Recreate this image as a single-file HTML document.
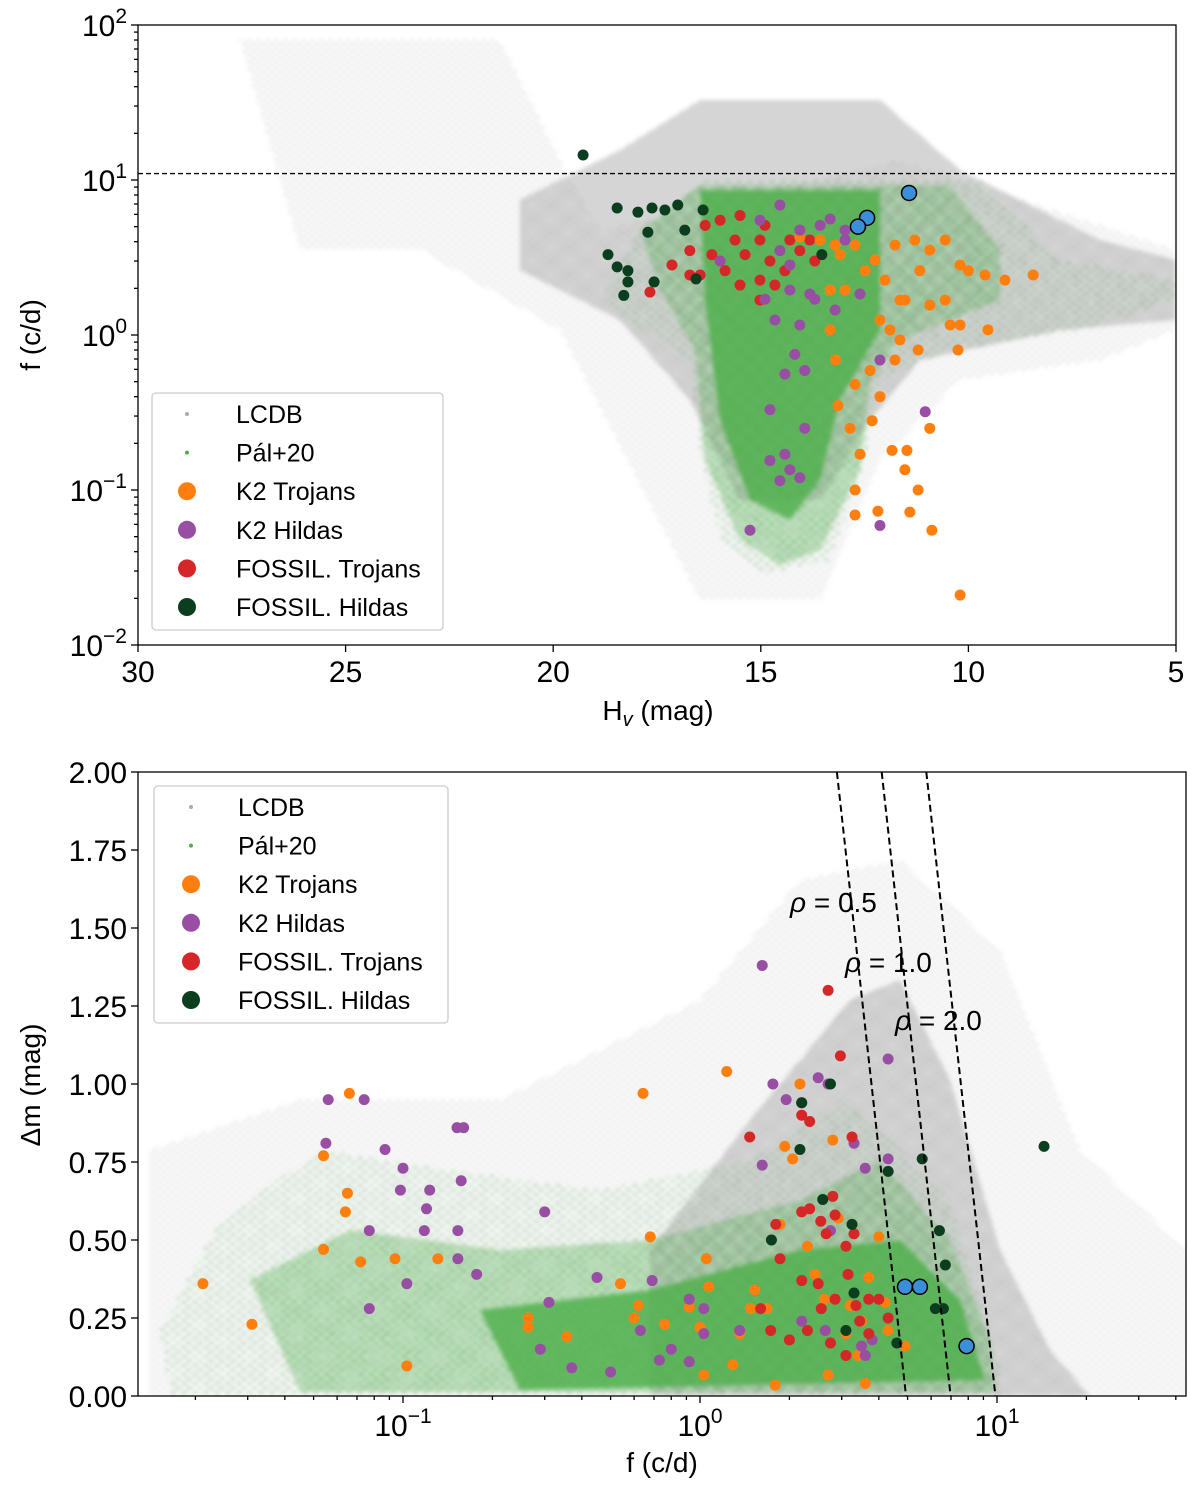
<!DOCTYPE html>
<html><head><meta charset="utf-8"><style>
html,body{margin:0;padding:0;background:#fff}
svg{display:block;font-family:"Liberation Sans","DejaVu Sans",sans-serif}
</style></head><body>
<svg id="fig" width="1200" height="1493" viewBox="0 0 1200 1493" xmlns="http://www.w3.org/2000/svg">
<defs>
<pattern id="gs" patternUnits="userSpaceOnUse" width="9" height="7"><circle cx="2" cy="2" r="1.1" fill="#aaa"/><circle cx="6.5" cy="5.5" r="1.1" fill="#aaa"/></pattern>
<pattern id="gm" patternUnits="userSpaceOnUse" width="4" height="4"><circle cx="1" cy="1" r="1.1" fill="#a6a6a6"/><circle cx="3" cy="3" r="1.1" fill="#a6a6a6"/></pattern>
<pattern id="gr" patternUnits="userSpaceOnUse" width="5" height="5"><circle cx="1.5" cy="1.5" r="1.2" fill="#4daf4a"/><circle cx="4" cy="4" r="1.2" fill="#4daf4a"/></pattern>
<pattern id="grs" patternUnits="userSpaceOnUse" width="11" height="9"><circle cx="2" cy="2" r="1.2" fill="#4daf4a"/><circle cx="8" cy="6.5" r="1.2" fill="#4daf4a"/></pattern>
<filter id="soft" x="-5%" y="-5%" width="110%" height="110%"><feGaussianBlur stdDeviation="2"/></filter>
<clipPath id="clipT"><rect x="138" y="25" width="1038" height="620"/></clipPath>
<clipPath id="clipB"><rect x="138" y="772" width="1048" height="624"/></clipPath>
</defs>

<g clip-path="url(#clipT)">
<g filter="url(#soft)">
<polygon points="240,40 500,40 560,160 600,230 900,160 1176,250 1176,330 1100,360 960,380 880,460 820,600 700,600 560,330 420,250 300,250" fill="url(#gs)"/>
<polygon points="520,200 620,150 700,100 880,100 960,170 1100,240 1176,260 1176,320 1060,330 920,360 870,420 820,500 740,500 690,400 620,320 520,270" fill="url(#gm)"/>
<polygon points="600,300 640,230 700,180 980,180 1060,260 1176,280 1176,300 1080,330 950,350 880,380 865,460 830,560 760,575 720,540 700,450 690,360" fill="url(#grs)"/>
<polygon points="640,230 700,185 950,185 1000,250 1000,300 900,340 870,380 860,470 820,550 780,565 740,540 705,460 695,350 660,290" fill="url(#gr)"/>
<polygon points="700,190 880,190 880,330 840,400 820,480 790,520 750,500 720,420 705,300" fill="#4daf4a" opacity="0.8"/>
</g>
</g>
<g clip-path="url(#clipB)">
<g filter="url(#soft)">
<polygon points="150,1150 300,1100 500,1100 700,1000 800,880 900,860 1000,950 1080,1150 1186,1250 1186,1396 150,1396" fill="url(#gs)"/>
<polygon points="650,1250 750,1120 850,1000 900,980 950,1080 1000,1250 1050,1350 1090,1396 650,1396" fill="url(#gm)"/>
<polygon points="160,1330 220,1220 320,1150 450,1170 600,1190 750,1160 850,1100 950,1200 1000,1370 1000,1396 170,1396" fill="url(#grs)"/>
<polygon points="250,1280 350,1230 500,1250 650,1240 800,1200 880,1160 950,1240 990,1340 995,1392 300,1392" fill="url(#gr)"/>
<polygon points="480,1310 650,1290 800,1250 900,1240 960,1300 985,1380 520,1390" fill="#4daf4a" opacity="0.8"/>
</g>
</g>

<g id="topMarks" clip-path="url(#clipT)"></g>
<g id="botMarks" clip-path="url(#clipB)"></g>
<g id="axes"></g>
</svg>
<script>
// ---- data: top panel (H_v, f) ----
const topOrangeH=[8.44,9.6,10.2,10.56,10.2,10.25,9.53,11.29,11.17,11.53,12.13,12.37,12.25,12.73,13.09,12.97,13.33,13.33,13.2,13.14,12.13,12.32,12.73,11.84,11.53,11.21,12.73,12.73,12.18,11.41,10.88,10.2,11.77,11.65,11.21,10.93,10.93,11.77,12.49,12.01,13.57,14.06,13.21,10.56,10.0,9.12,10.44,12.85,12.61,11.48,10.93,11.65,11.89];
const topOrangeF=[2.44,2.44,2.83,1.68,1.16,0.8,1.08,4.1,2.6,1.68,1.25,0.59,3.05,3.8,3.3,1.95,1.95,1.08,0.69,0.35,0.4,0.28,0.48,0.18,0.135,0.1,0.1,0.069,0.073,0.072,0.055,0.021,0.69,0.93,0.8,1.56,3.53,3.8,2.6,2.26,4.1,4.3,3.8,4.1,2.6,2.26,1.16,0.25,0.17,0.18,0.25,1.68,1.08];
const topPurpleH=[14.54,15.02,14.06,13.57,12.97,14.3,13.82,14.66,14.06,14.18,13.94,14.42,14.54,14.3,14.78,13.94,14.42,14.3,14.54,14.78,14.06,15.26,13.21,12.61,12.13,11.04,12.13,12.97,13.33,13.7,14.9,15.98];
const topPurpleF=[6.9,5.5,4.75,5.1,4.75,1.95,1.84,1.25,1.16,0.75,0.59,0.56,3.5,2.83,0.33,0.25,0.17,0.135,0.115,0.155,0.12,0.055,1.45,1.84,0.69,0.32,0.059,4.1,5.6,1.7,1.7,3.0];
const topRedH=[17.67,17.14,16.71,16.46,16.18,15.98,15.62,15.38,15.02,14.78,14.42,14.06,13.82,15.02,15.5,15.86,16.34,15.5,14.9,14.3,14.66,13.7,16.71,15.02];
const topRedF=[1.89,2.83,3.5,2.44,3.3,5.5,4.1,3.3,4.1,3.0,2.6,3.5,4.1,2.26,2.1,2.6,5.1,5.9,5.1,4.1,2.1,3.0,2.44,1.68];
const topDkH=[19.28,18.46,17.96,17.62,17.31,17.0,16.39,16.83,17.72,18.68,18.46,18.2,18.2,18.3,17.57,16.56,13.53];
const topDkF=[14.5,6.6,6.2,6.6,6.4,6.9,6.4,4.75,4.6,3.3,2.75,2.6,2.2,1.8,2.2,2.3,3.3];
const topBlueH=[11.43,12.44,12.66];
const topBlueF=[8.25,5.7,5.0];
const fLimit=11;
// ---- data: bottom panel (f, dm) ----
const botOrangeF=[0.0212,0.031,0.066,0.054,0.065,0.064,0.054,0.072,0.094,0.103,0.131,0.264,0.264,0.356,0.54,0.643,0.68,0.62,0.6,0.76,0.92,1.0,1.03,1.05,1.07,1.23,1.29,1.36,1.48,1.53,1.68,1.79,2.17,2.05,1.93,2.3,2.44,2.62,2.8,2.92,3.1,3.4,3.2,3.5,3.7,4.2,4.3,4.0,3.6,4.9,2.7,1.86];
const botOrangeM=[0.36,0.23,0.97,0.47,0.65,0.59,0.77,0.43,0.44,0.096,0.44,0.25,0.22,0.19,0.36,0.97,0.51,0.29,0.25,0.23,0.285,0.22,0.067,0.44,0.35,1.04,0.1,0.2,0.28,0.34,0.28,0.035,1.0,0.76,0.8,0.48,0.39,0.31,0.82,0.57,0.2,0.13,0.29,0.24,0.38,0.3,0.21,0.51,0.04,0.16,0.067,0.55];
const botPurpleF=[0.056,0.055,0.074,0.087,0.077,0.1,0.098,0.123,0.12,0.118,0.152,0.16,0.157,0.153,0.153,0.177,0.103,0.077,0.3,0.31,0.29,0.37,0.45,0.5,0.63,0.69,0.73,0.8,0.92,0.92,1.03,1.03,1.36,1.62,1.62,1.76,1.95,2.5,2.7,2.75,3.3,3.6,4.3,4.3,3.6,3.5,3.8,2.64,2.2];
const botPurpleM=[0.95,0.81,0.95,0.79,0.53,0.73,0.66,0.66,0.6,0.53,0.86,0.86,0.69,0.53,0.44,0.39,0.36,0.28,0.59,0.3,0.15,0.09,0.38,0.077,0.21,0.37,0.115,0.15,0.31,0.11,0.28,0.2,0.21,0.74,1.38,1.0,0.95,1.02,1.0,0.53,0.81,0.73,1.08,0.76,0.13,0.16,0.18,0.21,0.24];
const botRedF=[2.7,2.97,2.2,2.2,1.47,2.34,3.25,2.8,2.34,2.2,2.55,2.85,2.66,3.1,3.3,1.8,1.86,2.2,2.5,2.85,3.15,3.35,3.7,3.45,3.7,4.0,4.3,1.6,1.73,2.0,2.3,2.75,3.1,2.56];
const botRedM=[1.3,1.09,0.94,0.9,0.83,0.88,0.83,0.64,0.6,0.59,0.56,0.58,0.52,0.48,0.52,0.55,0.44,0.37,0.36,0.31,0.39,0.29,0.31,0.24,0.2,0.31,0.25,0.28,0.21,0.18,0.21,0.17,0.13,0.28];
const botDkF=[2.75,2.2,2.17,1.74,2.59,3.25,4.3,5.6,6.4,6.7,6.2,6.6,4.6,3.1,14.4,3.3];
const botDkM=[1.0,0.94,0.79,0.5,0.63,0.55,0.72,0.76,0.53,0.42,0.28,0.28,0.17,0.21,0.8,0.33];
const botBlueF=[4.9,5.5,7.9];
const botBlueM=[0.35,0.35,0.16];
const rhoValues=[0.5,1.0,2.0];
const rhoF0=[4.94,6.98,9.88];   // f at dm=0
const rhoF2=[2.89,4.09,5.78];   // f at dm=2
const topYTicks=[-2,-1,0,1,2];
const topXTicks=[30,25,20,15,10,5];
const botYTicks=[0,0.25,0.5,0.75,1.0,1.25,1.5,1.75,2.0];
const botXTicks=[-1,0,1];

// ---- scales ----
const xT=H=>138+(30-H)/25*1038;
const yT=f=>25+(2-Math.log10(f))*155;
const xB=f=>403+(Math.log10(f)+1)*297;
const yB=d=>1396-d*312;
const NS="http://www.w3.org/2000/svg";
function mk(tag,attrs,parent){const e=document.createElementNS(NS,tag);for(const k in attrs)e.setAttribute(k,attrs[k]);parent.appendChild(e);return e;}
const topG=document.getElementById('topMarks'), botG=document.getElementById('botMarks'), ax=document.getElementById('axes');

function scatter(g,xs,ys,sx,sy,color,r,name,stroke){
  for(let i=0;i<xs.length;i++){
    const c=mk('circle',{cx:sx(xs[i]),cy:sy(ys[i]),r:r,fill:color},g);
    if(stroke){c.setAttribute('stroke','#000');c.setAttribute('stroke-width','1.5');}
    
    
  }
}
const dl=mk('line',{x1:138,x2:1176,y1:yT(fLimit),y2:yT(fLimit),stroke:'#000','stroke-width':1.4,'stroke-dasharray':'5,3'},topG);


scatter(topG,topRedH,topRedF,xT,yT,'#d62728',5.5,'fossil-trojan-point');
scatter(topG,topDkH,topDkF,xT,yT,'#0b3d1f',5.5,'fossil-hilda-point');
scatter(topG,topOrangeH,topOrangeF,xT,yT,'#ff7f0e',5.5,'k2-trojan-point');
scatter(topG,topPurpleH,topPurpleF,xT,yT,'#984ea3',5.5,'k2-hilda-point');
scatter(topG,topBlueH,topBlueF,xT,yT,'#3b8fd8',7.5,'highlight-point',true);

scatter(botG,botOrangeF,botOrangeM,xB,yB,'#ff7f0e',5.5,'k2-trojan-point');
scatter(botG,botPurpleF,botPurpleM,xB,yB,'#984ea3',5.5,'k2-hilda-point');
scatter(botG,botRedF,botRedM,xB,yB,'#d62728',5.5,'fossil-trojan-point');
scatter(botG,botDkF,botDkM,xB,yB,'#0b3d1f',5.5,'fossil-hilda-point');
scatter(botG,botBlueF,botBlueM,xB,yB,'#3b8fd8',7.5,'highlight-point',true);
for(let i=0;i<rhoValues.length;i++){
  const l=mk('line',{x1:xB(rhoF2[i]),y1:yB(2),x2:xB(rhoF0[i]),y2:yB(0),stroke:'#000','stroke-width':2,'stroke-dasharray':'7,4'},botG);
  
  
}
const rhoLabelPos=[[790,912],[845,972],[895,1030]];
for(let i=0;i<rhoValues.length;i++){
  const t=mk('text',{x:rhoLabelPos[i][0],y:rhoLabelPos[i][1],'font-size':28},ax);
  t.innerHTML='<tspan font-style="italic">ρ</tspan> = '+rhoValues[i].toFixed(1);
  
  
}

// ---- axes ----
function frame(x,y,w,h,name){const r=mk('rect',{x:x,y:y,width:w,height:h,fill:'none',stroke:'#000','stroke-width':1.3},ax);
  
  }
frame(138,25,1038,620,'top-plot-frame');
frame(138,772,1048,624,'bottom-plot-frame');
function tick(x1,y1,x2,y2){mk('line',{x1:x1,y1:y1,x2:x2,y2:y2,stroke:'#000','stroke-width':1.3},ax);}
function sup(x,y,anchor,exp,name){
  const t=mk('text',{x:x,y:y,'font-size':30,'text-anchor':anchor},ax);
  t.innerHTML='10<tspan dy="-13" font-size="21">'+(exp<0?'−'+(-exp):exp)+'</tspan>';
  
  
}
topYTicks.forEach(e=>{const y=yT(Math.pow(10,e));tick(131,y,138,y);sup(127,y+11,'end',e,'top-y-tick-label');
  if(e<2)for(let m=2;m<10;m++){const yy=yT(m*Math.pow(10,e));tick(134,yy,138,yy);}});
topXTicks.forEach(H=>{const x=xT(H);tick(x,645,x,652);const t=mk('text',{x:x,y:682,'font-size':30,'text-anchor':'middle'},ax);t.textContent=H;
  
  });
botYTicks.forEach(d=>{const y=yB(d);tick(131,y,138,y);const t=mk('text',{x:127,y:y+11,'font-size':30,'text-anchor':'end'},ax);t.textContent=d.toFixed(2);
  
  });
botXTicks.forEach(e=>{const x=xB(Math.pow(10,e));tick(x,1396,x,1403);sup(x,1436,'middle',e,'bottom-x-tick-label');});
for(let e=-2;e<=1;e++)for(let m=2;m<10;m++){const f=m*Math.pow(10,e);const x=xB(f);if(x>138&&x<1186)tick(x,1396,x,1400);}
function label(x,y,txt,name,rot){const t=mk('text',{x:x,y:y,'font-size':28,'text-anchor':'middle'},ax);t.innerHTML=txt;
  if(rot)t.setAttribute('transform','rotate(-90 '+x+' '+y+')');
  
  }
label(658,720,'H<tspan dy="6" font-size="20" font-style="italic">v</tspan><tspan dy="-6"> (mag)</tspan>','top-x-axis-title');
label(40,335,'f (c/d)','top-y-axis-title',true);
label(662,1472,'f (c/d)','bottom-x-axis-title');
label(40,1085,'Δm (mag)','bottom-y-axis-title',true);

// ---- legends ----
const legNames=['LCDB','Pál+20','K2 Trojans','K2 Hildas','FOSSIL. Trojans','FOSSIL. Hildas'];
const legColors=['#aaa','#4daf4a','#ff7f0e','#984ea3','#d62728','#0b3d1f'];
const legR=[2,2,9,9,9,9];
function legend(x,y,w,h,mx,tx,y0,name){
  const g=mk('g',{},ax);
  
  
  mk('rect',{x:x,y:y,width:w,height:h,rx:4,fill:'#fff','fill-opacity':0.85,stroke:'#ccc','stroke-width':1.3},g);
  legNames.forEach((n,i)=>{const yy=y0+i*38.6;
    const c=mk('circle',{cx:mx,cy:yy,r:legR[i],fill:legColors[i]},g);
    
    
    const t=mk('text',{x:tx,y:yy+9,'font-size':25},g);t.textContent=n;
    
    });
}
legend(152,393,291,237,187,236,414,'top-legend');
legend(154,786,294,237,191,238,807,'bottom-legend');
</script>
</body></html>
